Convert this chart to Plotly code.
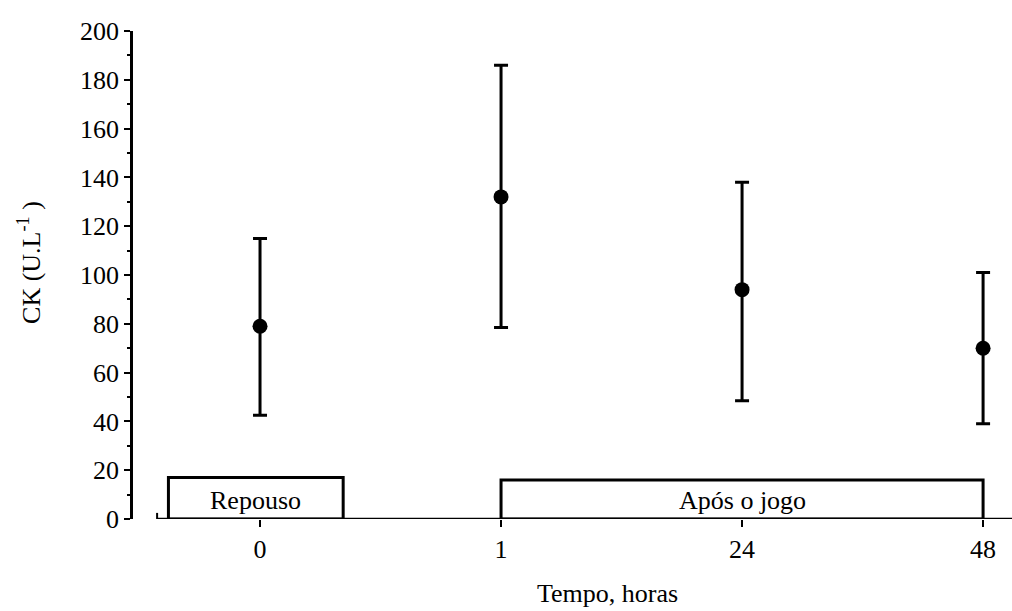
import plotly.graph_objects as go

# CK (creatine kinase) over time: mean with lower/upper bounds
tempo_labels = ["0", "1", "24", "48"]
ck_mean = [79, 132, 94, 70]
ck_upper = [115, 186, 138, 101]
ck_lower = [42.5, 78.5, 48.5, 39]

# Period boxes drawn along the baseline
periodo_labels = ["Repouso", "Após o jogo"]
periodo_x0 = [-0.38, 1]
periodo_x1 = [0.345, 3]
periodo_top = [17, 16]

FONT = "Liberation Serif"
FS = 26
xpos = list(range(len(tempo_labels)))
err_plus = [u - m for u, m in zip(ck_upper, ck_mean)]
err_minus = [m - l for m, l in zip(ck_mean, ck_lower)]

fig = go.Figure()
fig.add_trace(go.Scatter(
    x=xpos, y=ck_mean, mode="markers",
    marker=dict(color="black", size=15, symbol="circle"),
    error_y=dict(type="data", symmetric=False, array=err_plus,
                 arrayminus=err_minus, color="black", thickness=3, width=7),
    showlegend=False, cliponaxis=False,
))

x_left, x_right = -0.527, 3.12
shapes = []
# baseline of the time axis, offset from the y axis
shapes.append(dict(type="line", xref="x", yref="y", x0=-0.427, x1=x_right,
                   y0=0, y1=0, line=dict(color="black", width=2.5)))
shapes.append(dict(type="line", xref="x", yref="y", x0=-0.427, x1=-0.427,
                   y0=0, y1=2.5, line=dict(color="black", width=2)))
annotations = []
for lab, x0, x1, top in zip(periodo_labels, periodo_x0, periodo_x1, periodo_top):
    shapes.append(dict(type="rect", xref="x", yref="y", x0=x0, x1=x1, y0=0, y1=top,
                       line=dict(color="black", width=3), fillcolor="white", layer="below"))
    annotations.append(dict(x=(x0 + x1) / 2, y=7.5, xref="x", yref="y",
                            text=lab, showarrow=False, yanchor="middle",
                            font=dict(family=FONT, size=FS, color="black")))

annotations.append(dict(x=0.54, y=-0.152, xref="paper", yref="paper",
                        text="Tempo, horas", showarrow=False,
                        xanchor="center", yanchor="middle",
                        font=dict(family=FONT, size=FS, color="black")))
annotations.append(dict(x=-0.117, y=0.525, xref="paper", yref="paper",
                        text="CK (U.L<sup>-1</sup> )", showarrow=False, textangle=-90,
                        xanchor="center", yanchor="middle",
                        font=dict(family=FONT, size=FS, color="black")))

fig.update_layout(
    width=1012, height=611,
    margin=dict(l=133, r=0, t=31, b=92),
    paper_bgcolor="white", plot_bgcolor="white",
    font=dict(family=FONT, size=FS, color="black"),
    shapes=shapes, annotations=annotations,
    xaxis=dict(range=[x_left, x_right], tickvals=xpos, ticktext=tempo_labels,
               showline=False, showgrid=False, zeroline=False,
               ticks="outside", ticklen=7, tickwidth=2, tickcolor="black",
               tickfont=dict(family=FONT, size=FS, color="black")),
    yaxis=dict(range=[0, 200], dtick=20, showline=True, linecolor="black", linewidth=2.5,
               showgrid=False, zeroline=False,
               ticks="outside", ticklen=6, tickwidth=2, tickcolor="black",
               minor=dict(ticks="outside", ticklen=3, tickwidth=2, dtick=10,
                          tickcolor="black", showgrid=False),
               tickfont=dict(family=FONT, size=FS, color="black")),
)

fig.write_html("out.html")
